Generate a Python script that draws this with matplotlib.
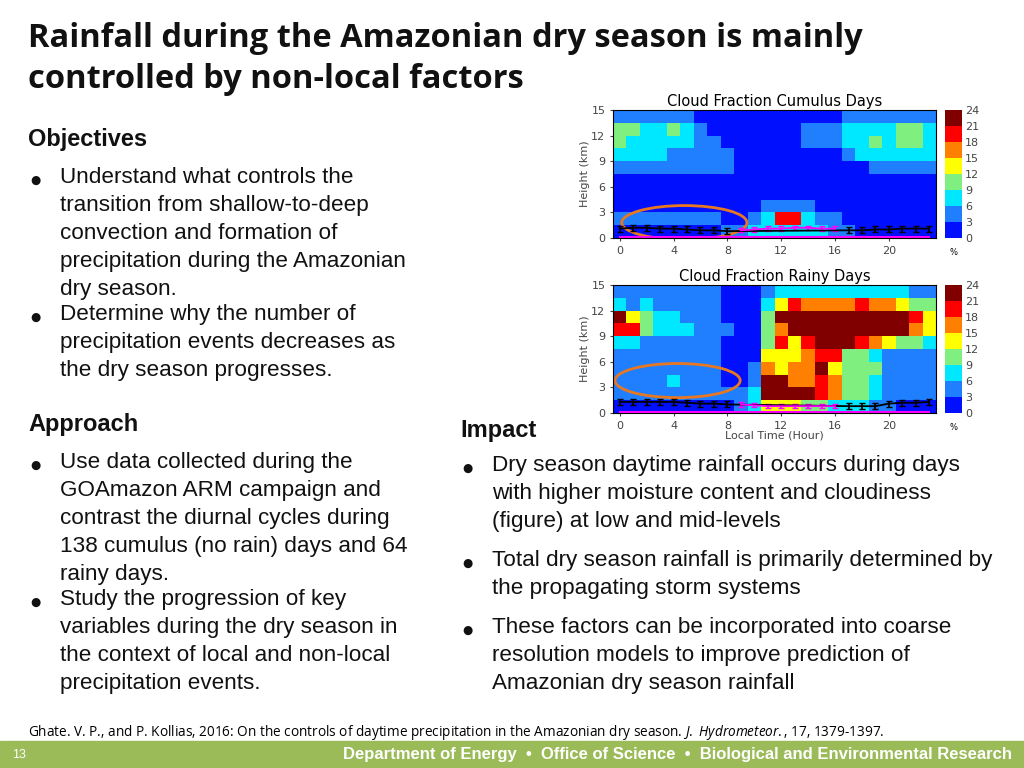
import numpy as np
import matplotlib.pyplot as plt
from matplotlib.colors import ListedColormap, BoundaryNorm
from matplotlib.patches import Ellipse, Rectangle

plt.rcParams["mathtext.fontset"] = "custom"
plt.rcParams["mathtext.it"] = "Open Sans:italic"
plt.rcParams["mathtext.rm"] = "Open Sans"

W, H = 1024, 768

# heatmap data: rows = height bins of 1.5 km (0 -> 15 km), cols = local hour 0..23 (%)
hours = np.arange(25)
heights = np.arange(0, 15.1, 1.5)

cumulus = [
    [2, 2, 2, 2, 2, 2, 2, 2, 3, 4, 6, 7, 8, 8, 7, 6, 4, 3, 2, 2, 2, 2, 2, 2],
    [3, 3, 3, 4, 4, 4, 3, 3, 2, 2, 3, 8, 20, 20, 8, 5, 4, 2, 2, 2, 2, 2, 2, 2],
    [1, 1, 1, 1, 2, 1, 1, 1, 1, 1, 1, 4, 4, 4, 3, 2, 2, 1, 1, 1, 1, 1, 1, 1],
    [1, 1, 1, 1, 1, 1, 1, 1, 1, 1, 1, 1, 1, 1, 1, 1, 1, 1, 1, 1, 1, 1, 1, 1],
    [1, 1, 1, 1, 1, 1, 1, 1, 1, 1, 1, 1, 1, 1, 1, 1, 1, 1, 1, 1, 1, 1, 1, 1],
    [4, 4, 5, 3, 3, 4, 4, 4, 4, 1, 1, 1, 1, 1, 1, 1, 1, 1, 1, 4, 3, 3, 4, 4],
    [6, 7, 7, 6, 5, 4, 4, 4, 3, 1, 1, 1, 1, 1, 2, 2, 2, 5, 6, 7, 7, 6, 7, 6],
    [9, 8, 7, 6, 7, 6, 5, 3, 1, 1, 1, 1, 1, 1, 4, 4, 5, 6, 8, 9, 8, 10, 9, 8],
    [9, 10, 7, 7, 9, 7, 4, 1, 1, 1, 1, 1, 1, 1, 3, 3, 4, 6, 7, 7, 8, 10, 9, 7],
    [4, 4, 4, 4, 4, 4, 1, 1, 1, 1, 1, 1, 1, 1, 1, 1, 1, 4, 5, 4, 4, 4, 4, 4],
]

rainy = [
    [2, 2, 2, 2, 2, 2, 2, 2, 2, 4, 8, 12, 14, 12, 10, 9, 8, 7, 6, 5, 3, 2, 2, 2],
    [4, 4, 5, 4, 4, 4, 4, 3, 3, 3, 6, 22, 22, 22, 22, 18, 15, 10, 9, 8, 3, 3, 3, 3],
    [5, 4, 5, 5, 6, 5, 4, 3, 2, 2, 4, 22, 22, 16, 16, 20, 15, 9, 9, 8, 4, 4, 4, 4],
    [4, 4, 5, 4, 5, 5, 4, 3, 2, 1, 3, 16, 14, 15, 16, 22, 14, 10, 9, 9, 4, 4, 3, 3],
    [3, 3, 3, 3, 3, 3, 3, 3, 1, 1, 1, 12, 12, 14, 16, 18, 18, 11, 9, 8, 5, 5, 4, 4],
    [8, 6, 5, 5, 4, 4, 3, 3, 1, 1, 2, 10, 18, 12, 19, 21, 21, 22, 20, 15, 12, 10, 9, 8],
    [20, 18, 9, 8, 7, 6, 4, 4, 3, 1, 2, 9, 17, 22, 22, 22, 22, 22, 22, 22, 22, 21, 17, 12],
    [22, 13, 10, 7, 6, 5, 5, 4, 2, 1, 2, 10, 22, 22, 22, 22, 22, 22, 22, 22, 22, 22, 20, 14],
    [7, 5, 7, 5, 4, 4, 4, 3, 1, 1, 1, 6, 12, 19, 17, 17, 17, 17, 18, 17, 15, 13, 11, 9],
    [4, 4, 4, 4, 4, 4, 3, 3, 1, 1, 1, 4, 8, 7, 7, 7, 7, 7, 7, 7, 7, 6, 5, 4],
]

# cloud base height (km) per hour: black = no-precip, magenta = precip-phase
cb_hours = np.arange(24) + 0.5
cu_base = [1.1, 1.2, 1.2, 1.1, 1.1, 1.0, 0.9, 0.9, 0.8, 0.9, 1.0, 1.1, 1.1, 1.2, 1.2, 1.1, 1.1, 0.9, 0.9, 1.0, 1.0, 1.1, 1.1, 1.1]
cu_black = [True] * 9 + [False] * 8 + [True] * 7
rn_base = [1.3, 1.3, 1.3, 1.3, 1.3, 1.2, 1.1, 1.1, 1.0, 1.0, 0.9, 0.8, 0.8, 0.8, 0.8, 0.8, 0.8, 0.8, 0.8, 0.8, 1.1, 1.2, 1.2, 1.3]
rn_black = [True] * 9 + [False] * 8 + [True] * 7
levels = np.arange(0, 25, 3)
cmap = ListedColormap(["#0010ff", "#1f7fff", "#00e8ff", "#7ff07f", "#ffff00",
                       "#ff8000", "#ff0000", "#800000"])
norm = BoundaryNorm(levels, cmap.N)

fig = plt.figure(figsize=(W / 100, H / 100), dpi=100)


def px(x, y, w, h):
    return [x / W, 1 - (y + h) / H, w / W, h / H]


def txt(x, y, s, **kw):
    fig.text(x / W, 1 - y / H, s, va="top", **kw)


def heat(y0, data, base, isblack, title, ell, xlabel):
    ax = fig.add_axes(px(613, y0, 323, 128))
    ax.pcolormesh(hours, heights, np.array(data), cmap=cmap, norm=norm)
    b = np.array(base)
    m = np.array(isblack)
    ax.errorbar(cb_hours[m], b[m], yerr=0.35, color="black", lw=1.3, capsize=2.5)
    ax.errorbar(cb_hours[~m], b[~m], yerr=0.25, color="#ff00ff", lw=1.3, capsize=2.5)
    ax.plot(cb_hours, np.full(24, 0.1), color="#ff00ff", lw=1.5)
    ax.add_patch(Ellipse(ell, 9.3, 4.0, fill=False, edgecolor="#e87722", lw=2))
    ax.set_xlim(0, 24)
    ax.set_ylim(0, 15)
    ax.set_xticks([0.5, 4.5, 8.5, 12.5, 16.5, 20.5])
    ax.set_xticklabels([0, 4, 8, 12, 16, 20])
    ax.set_yticks([0, 3, 6, 9, 12, 15])
    ax.tick_params(labelsize=8, length=2, colors="#444444")
    ax.set_ylabel("Height (km)", fontsize=8, labelpad=1, color="#444444")
    if xlabel:
        ax.set_xlabel("Local Time (Hour)", fontsize=8, labelpad=0, color="#444444")
    ax.set_title(title, fontsize=10.5, pad=3)
    cax = fig.add_axes(px(945, y0, 17, 128))
    cb = fig.colorbar(plt.cm.ScalarMappable(norm=norm, cmap=cmap), cax=cax, ticks=levels)
    cb.ax.tick_params(labelsize=8, length=0, pad=2, labelcolor="#444444")
    cb.outline.set_visible(False)
    cax.text(0.5, -0.08, "%", transform=cax.transAxes, ha="center", va="top", fontsize=6)


heat(110, cumulus, cu_base, cu_black, "Cloud Fraction Cumulus Days", (5.3, 1.8), False)
heat(285, rainy, rn_base, rn_black, "Cloud Fraction Rainy Days", (4.8, 3.8), True)

body = dict(family="Liberation Sans", fontsize=16.2, color="#111111", linespacing=1.43)
dot = dict(family="DejaVu Sans", fontsize=8.5, color="#111111")
head = dict(family="Liberation Sans", fontsize=17, weight="bold", color="#111111")

txt(28, 22, "Rainfall during the Amazonian dry season is mainly\ncontrolled by non-local factors",
    family="Open Sans", fontsize=23.5, weight="bold", color="#111111", linespacing=1.3)

txt(28, 128, "Objectives", **head)
txt(30, 174, "\u25cf", **dot)
txt(60, 167, "Understand what controls the\ntransition from shallow-to-deep\nconvection and formation of\nprecipitation during the Amazonian\ndry season.", **body)
txt(30, 311, "\u25cf", **dot)
txt(60, 304, "Determine why the number of\nprecipitation events decreases as\nthe dry season progresses.", **body)

txt(28, 413, "Approach", **head)
txt(30, 459, "\u25cf", **dot)
txt(60, 452, "Use data collected during the\nGOAmazon ARM campaign and\ncontrast the diurnal cycles during\n138 cumulus (no rain) days and 64\nrainy days.", **body)
txt(30, 596, "\u25cf", **dot)
txt(60, 589, "Study the progression of key\nvariables during the dry season in\nthe context of local and non-local\nprecipitation events.", **body)

txt(460, 419, "Impact", **head)
txt(462, 462, "\u25cf", **dot)
txt(492, 455, "Dry season daytime rainfall occurs during days\nwith higher moisture content and cloudiness\n(figure) at low and mid-levels", **body)
txt(462, 557, "\u25cf", **dot)
txt(492, 550, "Total dry season rainfall is primarily determined by\nthe propagating storm systems", **body)
txt(462, 624, "\u25cf", **dot)
txt(492, 617, "These factors can be incorporated into coarse\nresolution models to improve prediction of\nAmazonian dry season rainfall", **body)

fig.text(28 / W, 1 - 732 / H,
         "Ghate. V. P., and P. Kollias, 2016: On the controls of daytime precipitation in the Amazonian dry season. "
         r"$\mathit{J.\ Hydrometeor.}$, 17, 1379-1397.",
         family="Open Sans", fontsize=9.8, va="center")

fig.patches.append(Rectangle((0, 0), 1, 27 / H, transform=fig.transFigure,
                             color="#9bbb59", zorder=0))
fig.text(12 / W, 1 - 755 / H, "13", color="white", fontsize=9, va="center", family="Liberation Sans")
fig.text(1012 / W, 1 - 755 / H,
         "Department of Energy  \u2022  Office of Science  \u2022  Biological and Environmental Research",
         color="white", fontsize=12, weight="bold", ha="right", va="center", family="Liberation Sans")

fig.savefig("out.png", dpi=100)
